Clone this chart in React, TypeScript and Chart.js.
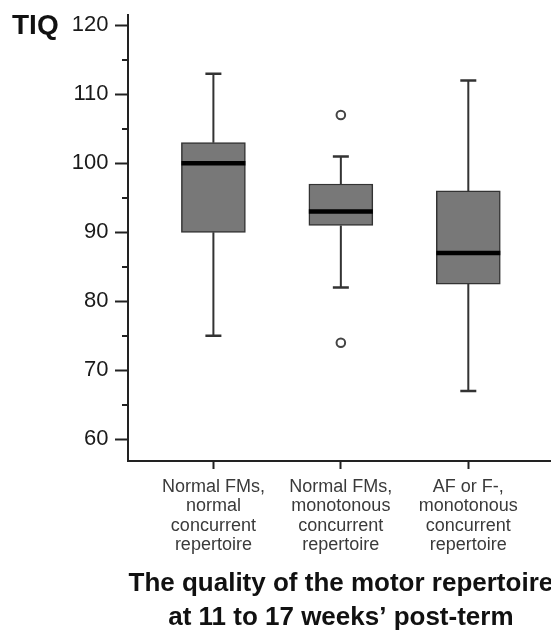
import React, { useEffect, useRef } from "react";
import { Chart, registerables } from "chart.js";

Chart.register(...registerables);

// ---- data ----
const categories: string[][] = [
  ["Normal FMs,", "normal", "concurrent", "repertoire"],
  ["Normal FMs,", "monotonous", "concurrent", "repertoire"],
  ["AF or F-,", "monotonous", "concurrent", "repertoire"],
];
const positions = [1, 2, 3];
const minValues = [75, 82, 67];
const q1Values = [90, 91, 82.5];
const medianValues = [100, 93, 87];
const q3Values = [103, 97, 96];
const maxValues = [113, 101, 112];
const outlierPositions = [2, 2];
const outlierValues = [107, 74];
const yMajorTicks = [60, 70, 80, 90, 100, 110, 120];
const yMinorTicks = [65, 75, 85, 95, 105, 115];
const yAxisLabel = "TIQ";
const xAxisTitle = ["The quality of the motor repertoire", "at 11 to 17 weeks\u2019 post-term"];

const FONT = '"Liberation Sans", Arial, Helvetica, sans-serif';
const AXIS = "#222222";

const boxParts = {
  id: "boxParts",
  beforeDatasetsDraw(chart: any) {
    const { ctx, scales } = chart;
    const x = scales.x, y = scales.y;
    ctx.save();
    ctx.strokeStyle = "#333333";
    positions.forEach((p, i) => {
      const cx = x.getPixelForValue(p);
      const yMin = y.getPixelForValue(minValues[i]);
      const yMax = y.getPixelForValue(maxValues[i]);
      const yQ1 = y.getPixelForValue(q1Values[i]);
      const yQ3 = y.getPixelForValue(q3Values[i]);
      ctx.lineWidth = 2;
      ctx.beginPath();
      ctx.moveTo(cx, yMin);
      ctx.lineTo(cx, yQ1);
      ctx.moveTo(cx, yQ3);
      ctx.lineTo(cx, yMax);
      ctx.stroke();
      ctx.lineWidth = 2.5;
      ctx.beginPath();
      ctx.moveTo(cx - 8, yMin);
      ctx.lineTo(cx + 8, yMin);
      ctx.moveTo(cx - 8, yMax);
      ctx.lineTo(cx + 8, yMax);
      ctx.stroke();
    });
    ctx.restore();
  },
  afterDatasetsDraw(chart: any) {
    const { ctx, scales } = chart;
    const x = scales.x, y = scales.y;
    const meta = chart.getDatasetMeta(0);
    ctx.save();
    ctx.strokeStyle = "#000000";
    ctx.lineWidth = 4.5;
    positions.forEach((p, i) => {
      const bar = meta.data[i];
      const cx = x.getPixelForValue(p);
      const half = bar ? bar.width / 2 : 32;
      const ym = y.getPixelForValue(medianValues[i]);
      ctx.beginPath();
      ctx.moveTo(cx - half, ym);
      ctx.lineTo(cx + half, ym);
      ctx.stroke();
    });
    ctx.restore();
  },
  afterDraw(chart: any) {
    const { ctx, scales } = chart;
    const y = scales.y;
    ctx.save();
    ctx.strokeStyle = AXIS;
    ctx.lineWidth = 2;
    yMinorTicks.forEach((v) => {
      const py = Math.round(y.getPixelForValue(v));
      ctx.beginPath();
      ctx.moveTo(y.right - 6, py);
      ctx.lineTo(y.right, py);
      ctx.stroke();
    });
    ctx.fillStyle = "#111111";
    ctx.font = `bold 28px ${FONT}`;
    ctx.textAlign = "left";
    ctx.textBaseline = "alphabetic";
    ctx.fillText(yAxisLabel, 12, y.getPixelForValue(yMajorTicks[yMajorTicks.length - 1]) + 9);
    ctx.restore();
  },
};

export default function App() {
  const ref = useRef<HTMLCanvasElement | null>(null);
  useEffect(() => {
    if (!ref.current) return;
    const chart = new Chart(ref.current, {
      type: "bar",
      data: {
        datasets: [
          {
            type: "bar",
            data: positions.map((p, i) => ({ x: p, y: [q1Values[i], q3Values[i]] })) as any,
            backgroundColor: "#787878",
            borderColor: "#333333",
            borderWidth: 1.5,
            borderSkipped: false,
            barThickness: 64,
          } as any,
          {
            type: "scatter",
            data: outlierPositions.map((p, i) => ({ x: p, y: outlierValues[i] })),
            pointRadius: 4.3,
            pointBorderWidth: 2,
            pointBackgroundColor: "#ffffff",
            pointBorderColor: "#444444",
          } as any,
        ],
      },
      options: {
        responsive: false,
        animation: false,
        events: [],
        layout: { padding: { left: 0, top: 15, right: 3, bottom: 0 } },
        plugins: { legend: { display: false }, tooltip: { enabled: false } },
        scales: {
          x: {
            type: "linear",
            position: "bottom",
            offset: false,
            min: 0.33,
            max: 3.67,
            afterBuildTicks: (s: any) => {
              s.ticks = positions.map((v) => ({ value: v }));
            },
            afterFit: (s: any) => {
              s.height = 174;
              s.paddingLeft = 0;
              s.paddingRight = 0;
            },
            ticks: {
              autoSkip: false,
              maxRotation: 0,
              minRotation: 0,
              padding: 8,
              color: "#3a3a3a",
              font: { family: FONT, size: 18, lineHeight: 19.5 / 18 },
              callback: (v: any) => {
                const idx = positions.indexOf(Number(v));
                return idx >= 0 ? categories[idx] : "";
              },
            },
            grid: {
              offset: false,
              drawOnChartArea: false,
              drawTicks: true,
              tickLength: 8,
              color: AXIS,
              tickWidth: 2,
            },
            border: { display: true, color: AXIS, width: 2 },
            title: {
              display: true,
              text: xAxisTitle,
              color: "#111111",
              font: { family: FONT, size: 26, weight: "bold", lineHeight: 34 / 26 },
              padding: { top: 0, bottom: 0 },
            },
          },
          y: {
            type: "linear",
            min: 56.85,
            max: 121.5,
            afterBuildTicks: (s: any) => {
              s.ticks = yMajorTicks.map((v) => ({ value: v }));
            },
            afterFit: (s: any) => {
              s.width = 128;
              s.paddingTop = 0;
              s.paddingBottom = 0;
            },
            ticks: {
              padding: 6.5,
              color: "#1a1a1a",
              font: { family: FONT, size: 22 },
            },
            grid: {
              drawOnChartArea: false,
              drawTicks: true,
              tickLength: 13,
              color: AXIS,
              tickWidth: 2,
            },
            border: { display: true, color: AXIS, width: 2 },
          },
        },
      } as any,
      plugins: [boxParts],
    });
    return () => chart.destroy();
  }, []);

  return (
    <div style={{ position: "absolute", left: 0, top: 0, width: 551, height: 635, overflow: "hidden", background: "#ffffff" }}>
      <canvas ref={ref} width={560} height={635} style={{ display: "block" }} />
    </div>
  );
}
